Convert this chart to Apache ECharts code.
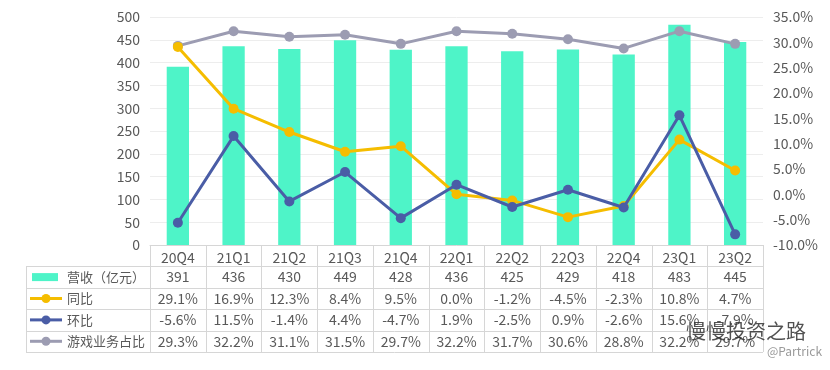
<!DOCTYPE html>
<html><head><meta charset="utf-8">
<script src="https://cdn.jsdelivr.net/npm/echarts@6/dist/echarts.min.js"></script>
<style>html,body{margin:0;padding:0;background:#fff}#c{width:830px;height:370px}</style>
</head><body><div id="c"></div>
<script>
const categories = ['20Q4','21Q1','21Q2','21Q3','21Q4','22Q1','22Q2','22Q3','22Q4','23Q1','23Q2'];
const revenue = [391,436,430,449,428,436,425,429,418,483,445];
const yoy = [29.1,16.9,12.3,8.4,9.5,0.0,-1.2,-4.5,-2.3,10.8,4.7];
const qoq = [-5.6,11.5,-1.4,4.4,-4.7,1.9,-2.5,0.9,-2.6,15.6,-7.9];
const share = [29.3,32.2,31.1,31.5,29.7,32.2,31.7,30.6,28.8,32.2,29.7];
const seriesNames = ['营收（亿元）','同比','环比','游戏业务占比'];
const leftTicks = [0,500,50];
const rightTicks = [-10,35,5];

const colors = ['#4EF4C8','#F5BD00','#4A5DA6','#9C9CB2'];
const FONT = '"Noto Sans CJK SC","Noto Sans",sans-serif';
const TXT = '#595959';
const LINE = '#D6D6D6';
const G = {left:150, right:67, top:17, bottom:125};

const chart = echarts.init(document.getElementById('c'));
const lineSeries = (name, data, color, z) => ({
  name, type:'line', yAxisIndex:1, data, z,
  symbol:'circle', symbolSize:10, lineStyle:{width:3, color}, itemStyle:{color}
});
chart.setOption({
  animation:false,
  textStyle:{fontFamily:FONT},
  grid:G,
  xAxis:{type:'category', data:categories, axisTick:{show:false},
    axisLine:{lineStyle:{color:LINE}},
    axisLabel:{color:TXT, fontSize:14, margin:6, fontFamily:FONT}},
  yAxis:[
    {type:'value', min:leftTicks[0], max:leftTicks[1], interval:leftTicks[2],
     axisLabel:{color:TXT, fontSize:14, margin:10},
     splitLine:{lineStyle:{color:'#EDEDED'}}, axisLine:{show:false}},
    {type:'value', min:rightTicks[0], max:rightTicks[1], interval:rightTicks[2],
     axisLabel:{color:TXT, fontSize:14, margin:10, formatter:v=>v.toFixed(1)+'%'},
     splitLine:{show:false}, axisLine:{show:false}}
  ],
  series:[
    {name:seriesNames[0], type:'bar', data:revenue, barWidth:'40%', itemStyle:{color:colors[0]}},
    lineSeries(seriesNames[3], share, colors[3], 3),
    lineSeries(seriesNames[1], yoy, colors[1], 4),
    lineSeries(seriesNames[2], qoq, colors[2], 5)
  ]
});

// data table
const rows = [
  revenue.map(v=>String(v)),
  yoy.map(v=>v.toFixed(1)+'%'),
  qoq.map(v=>v.toFixed(1)+'%'),
  share.map(v=>v.toFixed(1)+'%')
];
const W = 830, H = 370;
const x0 = G.left, x1 = W - G.right, yTop = H - G.bottom;
const rowH = 21.4;
const tableLeft = 26;
const n = categories.length;
const cw = (x1 - x0) / n;
const els = [];
const ln = (xa,ya,xb,yb)=>els.push({type:'line', shape:{x1:xa,y1:ya,x2:xb,y2:yb}, style:{stroke:LINE, lineWidth:1}, silent:true});
for (let r=1; r<=5; r++) {
  const y = Math.round(yTop + r*rowH)+0.5;
  ln(tableLeft, y, x1, y);
}
for (let i=0; i<=n; i++) {
  const x = Math.round(x0 + i*cw)+0.5;
  ln(x, yTop, x, yTop+5*rowH);
}
ln(tableLeft+0.5, yTop+rowH, tableLeft+0.5, yTop+5*rowH);
rows.forEach((row, r) => {
  const yc = yTop + (r+1.5)*rowH;
  row.forEach((t, i) => {
    const xc = chart.convertToPixel({xAxisIndex:0}, i);
    els.push({type:'text', x:xc, y:yc, style:{text:t, fill:TXT, font:'14px '+FONT, align:'center', verticalAlign:'middle'}, silent:true});
  });
  if (r===0) {
    els.push({type:'rect', shape:{x:32, y:yc-4, width:26, height:8}, style:{fill:colors[0]}});
  } else {
    const c = colors[r];
    els.push({type:'line', shape:{x1:30,y1:yc,x2:62,y2:yc}, style:{stroke:c, lineWidth:3}});
    els.push({type:'circle', shape:{cx:46, cy:yc, r:4.5}, style:{fill:c}});
  }
  els.push({type:'text', x:67, y:yc, style:{text:seriesNames[r], fill:TXT, font:'13px '+FONT, align:'left', verticalAlign:'middle'}});
});
// watermark
els.push({type:'text', x:806, y:331, style:{text:'慢慢投资之路', fill:'#333', font:'20px '+FONT, align:'right', verticalAlign:'middle', opacity:0.85}});
els.push({type:'text', x:822, y:351, style:{text:'@Partrick', fill:'#9a9a9a', font:'12px '+FONT, align:'right', verticalAlign:'middle'}});
chart.setOption({graphic:{elements:els}});
</script></body></html>
